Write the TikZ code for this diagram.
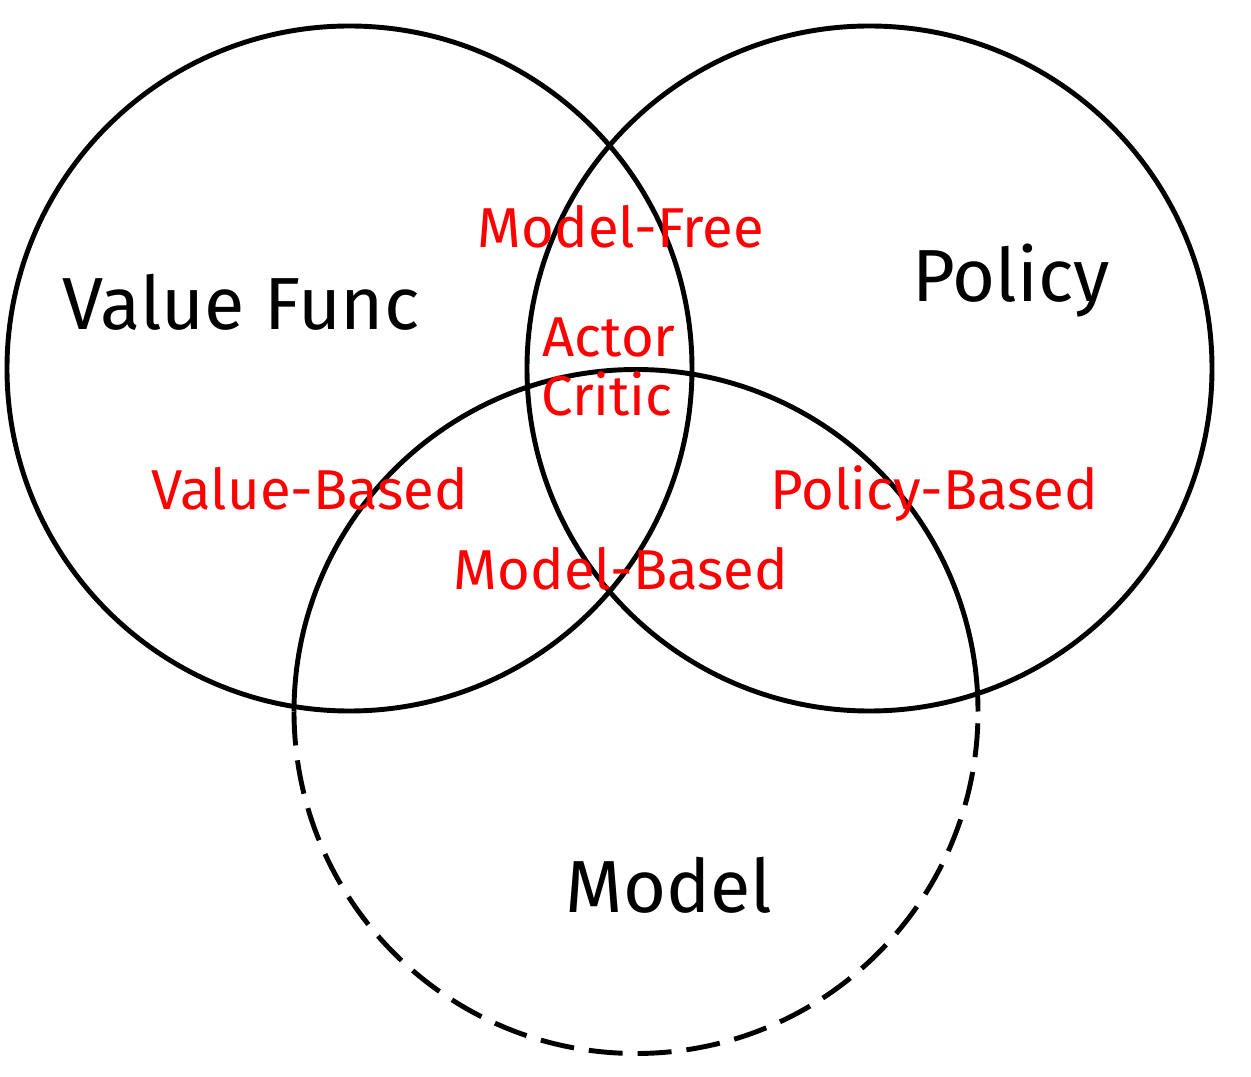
\documentclass[tikz,border=0pt]{standalone}
\usepackage{fontspec}
\setmainfont{Fira Sans}
\usetikzlibrary{positioning}

\begin{document}
\begin{tikzpicture}[x=0.02cm, y=0.02cm, line width=2.8pt]

        \useasboundingbox (0,0) rectangle (1251,1076);

        % Circles
        \coordinate (cval) at (349.5,707.5);
        \coordinate (cpol) at (869.5,707.5);
        \coordinate (cmod) at (636,364.5);
        \draw (cval) circle [radius=342.5];
        \draw (cpol) circle [radius=342.5];
        \draw (cmod) ++(342,0) arc [start angle=0, end angle=180, radius=342];
        \draw[dash pattern=on 0.68cm off 0.3cm] (cmod) ++(-342,0) arc [start angle=180, end angle=360, radius=342];

        % Nodes
        \node[anchor=base, font=\fontsize{42}{46}\selectfont] (vf) at (241,746) {Value Func};
        \node[anchor=base, font=\fontsize{42}{46}\selectfont] (pol) at (1011,774) {Policy};
        \node[anchor=base, font=\fontsize{42}{46}\selectfont] (mdl) at (669,164) {Model};
        \node[anchor=base, red, font=\fontsize{32}{36}\selectfont] (free) at (621,828) {Model-Free};
        \node[anchor=base, red, font=\fontsize{32}{36}\selectfont] (actor) at (609,719) {Actor};
        \node[anchor=base, red, font=\fontsize{32}{36}\selectfont] (critic) at (607,660) {Critic};
        \node[anchor=base, red, font=\fontsize{32}{36}\selectfont] (vbased) at (310,566) {Value-Based};
        \node[anchor=base, red, font=\fontsize{32}{36}\selectfont] (pbased) at (934,566) {Policy-Based};
        \node[anchor=base, red, font=\fontsize{32}{36}\selectfont] (mbased) at (621,486) {Model-Based};

\end{tikzpicture}
\end{document}
